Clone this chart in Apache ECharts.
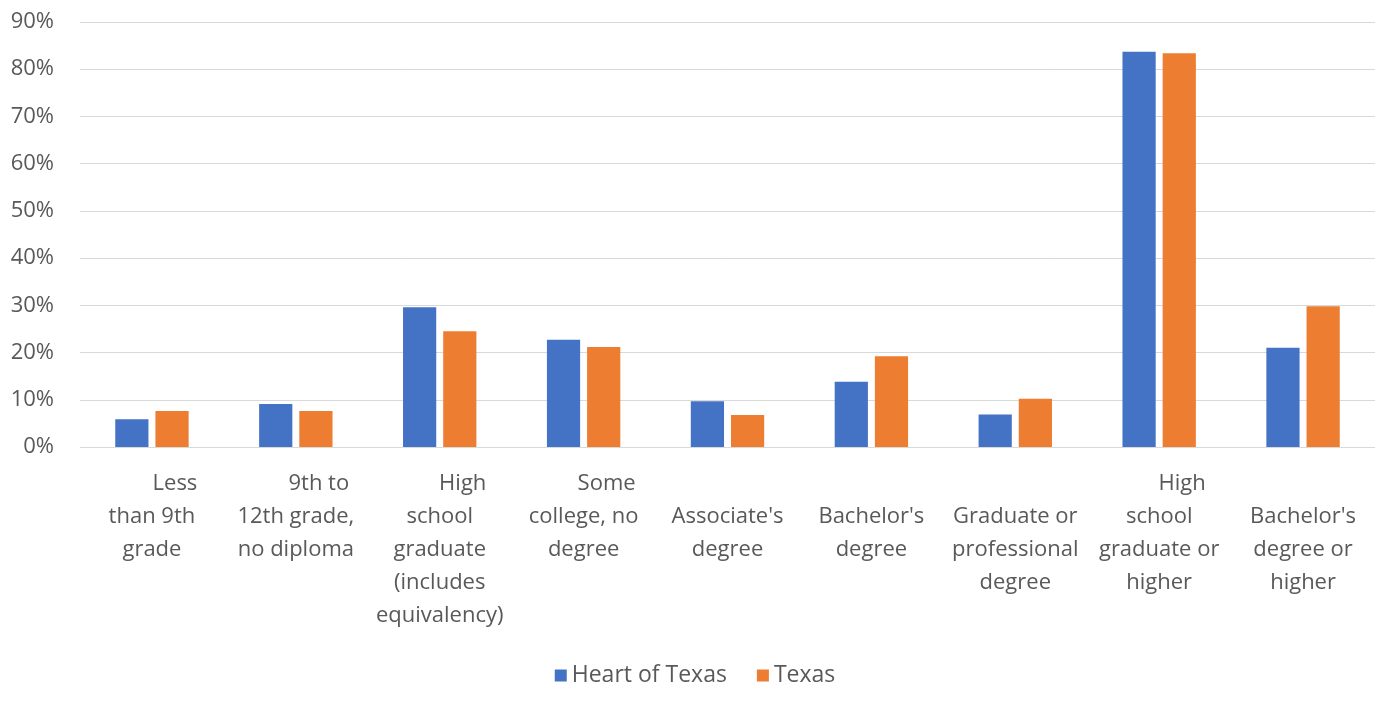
<!DOCTYPE html>
<html>
<head>
<meta charset="utf-8">
<script src="https://cdn.jsdelivr.net/npm/echarts@6/dist/echarts.min.js"></script>
<style>
  html, body { margin: 0; padding: 0; background: #fff; }
  #chart { width: 1390px; height: 704px; }
</style>
</head>
<body>
<div id="chart"></div>
<script>
// category label lines (first line of some labels is offset like in the source)
const categories = [
  ['Less', 'than 9th', 'grade'],
  ['9th to', '12th grade,', 'no diploma'],
  ['High', 'school', 'graduate', '(includes', 'equivalency)'],
  ['Some', 'college, no', 'degree'],
  ['', "Associate's", 'degree'],
  ['', "Bachelor's", 'degree'],
  ['', 'Graduate or', 'professional', 'degree'],
  ['High', 'school', 'graduate or', 'higher'],
  ['', "Bachelor's", 'degree or', 'higher']
]
const heartOfTexas = [5.9, 9.1, 29.6, 22.7, 9.7, 13.8, 6.9, 83.7, 21.0]
const texas = [7.6, 7.6, 24.5, 21.2, 6.8, 19.2, 10.2, 83.4, 29.8]
const yTicks = { min: 0, max: 90, interval: 10 }

const chart = echarts.init(document.getElementById('chart'))

const options = {
  animation: false,
  textStyle: { fontFamily: '"Open Sans", "Liberation Sans", sans-serif' },
  grid: { left: 80, right: 15, top: 22, bottom: 257 },
  legend: {
    bottom: 12,
    left: 'center',
    itemWidth: 12,
    itemHeight: 12,
    itemGap: 30,
    icon: 'rect',
    textStyle: { fontSize: 23, color: '#595959' },
    data: ['Heart of Texas', 'Texas']
  },
  xAxis: {
    type: 'category',
    data: categories.map(c => c.join('|')),
    axisLine: { show: false },
    axisTick: { show: false },
    axisLabel: {
      interval: 0,
      margin: 20,
      color: '#595959',
      fontSize: 22,
      lineHeight: 33,
      formatter: v => {
        const lines = v.split('|')
        const first = lines[0] === '' ? ' ' : '{a|' + lines[0] + '}'
        return [first].concat(lines.slice(1)).join('\n')
      },
      rich: {
        a: { fontSize: 22, color: '#595959', lineHeight: 33, padding: [0, 0, 0, 46] }
      }
    }
  },
  yAxis: {
    type: 'value',
    min: yTicks.min,
    max: yTicks.max,
    interval: yTicks.interval,
    axisLabel: {
      formatter: '{value}%',
      color: '#595959',
      fontSize: 22,
      margin: 26
    },
    splitLine: { lineStyle: { color: '#d9d9d9', width: 1 } }
  },
  series: [
    {
      name: 'Heart of Texas',
      type: 'bar',
      data: heartOfTexas,
      itemStyle: { color: '#4472C4' },
      barGap: '21%',
      barCategoryGap: '49%'
    },
    {
      name: 'Texas',
      type: 'bar',
      data: texas,
      itemStyle: { color: '#ED7D31' }
    }
  ]
}

chart.setOption(options)
</script>
</body>
</html>
